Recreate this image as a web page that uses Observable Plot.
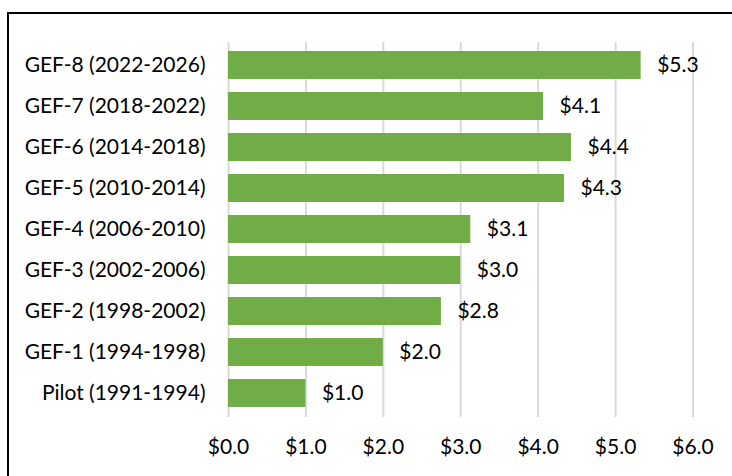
<!DOCTYPE html>
<html>
<head>
<meta charset="utf-8">
<script src="https://cdn.jsdelivr.net/npm/d3@7"></script>
<script src="https://cdn.jsdelivr.net/npm/@observablehq/plot@0.6"></script>
<style>
  html, body { margin: 0; padding: 0; background: #fff; }
  #wrap { position: relative; width: 732px; height: 476px; overflow: hidden; }
  #frame { position: absolute; left: 7px; top: 12px; width: 800px; height: 600px;
           border-left: 2px solid #000; border-top: 2px solid #000; pointer-events: none; }
  svg { font-family: Lato, "Noto Sans", sans-serif; }
</style>
</head>
<body>
<div id="wrap"><div id="frame"></div></div>
<script>
const periods = [
  "GEF-8 (2022-2026)",
  "GEF-7 (2018-2022)",
  "GEF-6 (2014-2018)",
  "GEF-5 (2010-2014)",
  "GEF-4 (2006-2010)",
  "GEF-3 (2002-2006)",
  "GEF-2 (1998-2002)",
  "GEF-1 (1994-1998)",
  "Pilot (1991-1994)"
];
const funding = [5.33, 4.07, 4.43, 4.34, 3.13, 3.0, 2.75, 2.0, 1.0];
const xTicks = [0, 1, 2, 3, 4, 5, 6];

const data = periods.map((p, i) => ({period: p, value: funding[i]}));
const fmt = d3.format(".1f");

const chart = Plot.plot({
  width: 732,
  height: 476,
  marginLeft: 228,
  marginRight: 39.5,
  marginTop: 42,
  marginBottom: 59,
  style: {fontSize: "21px", fontFamily: "Lato, 'Noto Sans', sans-serif", color: "#000", background: "#fff"},
  x: {domain: [0, 6], ticks: xTicks, tickFormat: d => "$" + fmt(d)},
  y: {domain: periods, paddingInner: 0.31, paddingOuter: 0.17},
  marks: [
    Plot.gridX(xTicks, {stroke: "#d9d9d9", strokeOpacity: 1, strokeWidth: 2}),
    Plot.barX(data, {x: "value", y: "period", fill: "#70ad47"}),
    Plot.text(data, {x: "value", y: "period", text: d => "$" + fmt(d.value), textAnchor: "start", dx: 16, fill: "#000", fontSize: 21}),
    Plot.axisX({ticks: xTicks, tickSize: 0, tickPadding: 22, tickFormat: d => "$" + fmt(d), label: null, fontSize: 21}),
    Plot.axisY({tickSize: 0, tickPadding: 23, label: null, fontSize: 21})
  ]
});
document.getElementById("wrap").insertBefore(chart, document.getElementById("frame"));
</script>
</body>
</html>
